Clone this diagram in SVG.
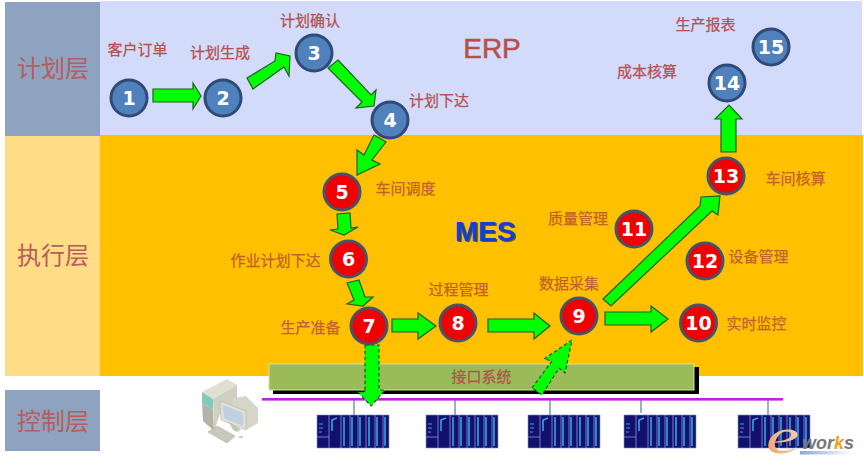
<svg xmlns="http://www.w3.org/2000/svg" xmlns:xlink="http://www.w3.org/1999/xlink" width="864" height="466" viewBox="0 0 864 466">
<style>
text{font-family:"Liberation Sans","Noto Sans CJK SC",sans-serif}
.l{font-size:15px;text-anchor:middle;fill:#b5504c;stroke:#b5504c;stroke-width:.25}
.o{font-size:15px;text-anchor:middle;fill:#c4602c;stroke:#c4602c;stroke-width:.25}
.h{font-size:24px;text-anchor:middle;fill:#b85c5c}
.a{fill:#00ff00;stroke:#1f5f1f;stroke-width:1.2;stroke-linejoin:miter}
.d{stroke-dasharray:3.5 2.5;stroke:#0f4f0f;stroke-width:1.1}
.b{fill:#4f81bd;stroke:#2f4a78;stroke-width:3}
.r{fill:#f00000;stroke:#44546a;stroke-width:3}
.n{font-family:"DejaVu Sans",sans-serif;font-weight:700;font-size:19px;fill:#fff;text-anchor:middle}
.s{stroke:#5a7a9a;stroke-width:1.2}
</style>
<defs>
<linearGradient id="bar"><stop offset="0" stop-color="#8ea6d8"/><stop offset="1" stop-color="#fff"/></linearGradient>
<linearGradient id="eg" x1="0" y1="1" x2="1" y2="0"><stop offset="0" stop-color="#f0a060"/><stop offset="1" stop-color="#f6d8c0"/></linearGradient>
<g id="rack">
<rect width="72" height="33" fill="#14106e" stroke="#8090d8" stroke-width="0.6"/>
<path d="M12 0V33M24 0V33M33 0V33M41 0V33M49 0V33M58 0V33M66 0V33M0 22H12" stroke="#8a9ad8" stroke-width="0.8" fill="none"/>
<path d="M27 2V31M35 2V31M43 2V31M52 2V31M60 2V31M68 2V31" stroke="#2ea8e0" stroke-width="1.6" fill="none"/>
<path d="M15 16V5L20 3" stroke="#2ea8e0" stroke-width="1.6" fill="none"/>
<path d="M2 9H6M2 13H6M2 17H5" stroke="#2ea8e0" stroke-width="1.2" fill="none"/>
</g>
</defs>
<rect width="864" height="466" fill="#fff"/>
<g id="bands">
<rect x="100" y="1" width="762" height="134" fill="#d3dbfb"/>
<rect x="5" y="2" width="95" height="134" fill="#8ea3bf"/>
<rect x="100" y="135" width="763" height="241" fill="#ffc000"/>
<rect x="5" y="136" width="95" height="240" fill="#ffdc85"/>
<rect x="5" y="390" width="95" height="61" fill="#8ea3bf"/>
<text class="h" x="53" y="77">计划层</text>
<text class="h" x="53" y="264">执行层</text>
<text class="h" x="53" y="430">控制层</text>
<text x="492" y="58" font-size="28" text-anchor="middle" fill="#b5504c" stroke="#b5504c" stroke-width="0.5">ERP</text>
<text x="486.500" y="242" font-size="28" font-weight="700" text-anchor="middle" fill="#333" opacity="0.75">MES</text>
<text x="485" y="240.500" font-size="28" font-weight="700" text-anchor="middle" fill="#1040d8">MES</text>
</g>
<g id="interface">
<rect x="273" y="367" width="426" height="27" fill="#000"/>
<rect x="269" y="364" width="425" height="26" fill="#9bbb59" stroke="#d4e2a8" stroke-width="1"/>
<text class="l" x="481.500" y="382">接口系统</text>
</g>
<g id="bus">
<rect x="262" y="398" width="521" height="2.600" fill="#c020e0"/>
<path class="s" d="M354 400V415M455 400V415M550 400V415M641 400V413M768 400V415"/>
<use xlink:href="#rack" href="#rack" x="317" y="415"/>
<use xlink:href="#rack" href="#rack" x="426" y="415"/>
<use xlink:href="#rack" href="#rack" x="528" y="415"/>
<use xlink:href="#rack" href="#rack" x="624" y="415"/>
<use xlink:href="#rack" href="#rack" x="738" y="415"/>
</g>
<g id="computer">
<polygon points="202,392 227,379 237,385 213,399" fill="#e0e0d2"/>
<polygon points="202,392 213,399 213,410 202,403" fill="#80ccba"/>
<polygon points="202,403 213,410 214,431 203,421" fill="#b4b4a6"/>
<polygon points="213,399 237,385 237,403 220,414 214,431" fill="#d0d0c2"/>
<polygon points="233,398 246,396 258,408 258,423 246,430 232,410" fill="#d6d6c8"/>
<polygon points="220,401 246,411 246,430 221,420" fill="#e0e0d6" stroke="#a8a89c" stroke-width="0.5"/>
<polygon points="223,405 243,413 243,426 224,418" fill="#bed0e2"/>
<polygon points="229,422 241,429 237,432 233,430" fill="#c4c4b8"/>
<polygon points="208,432 217,426 235,436 227,443" fill="#c8c8bc" stroke="#a0a096" stroke-width="0.5"/>
<ellipse cx="241" cy="437" rx="2.500" ry="1.500" fill="#d4d4d4"/>
</g>
<g id="connectors">
<polygon class="a" points="153,89 193,89 193,83 201,96 193,109 193,102 153,102"/>
<polygon class="a" points="247,78 275,61 276,53 290,56 289,76 284,67 253,89"/>
<polygon class="a" points="338,60 371,95 376,90 374,106 356,108 362,102 328,68"/>
<polygon class="a" points="374,135 386,142 372,160 380,164 357,175 357,150 364,155"/>
<polygon class="a" points="337,214 350,213 351,228 358,227 344,235 330,230 338,229"/>
<polygon class="a" points="347,283 359,280 365,297 373,297 363,306 347,304 354,300"/>
<polygon class="a" points="392,319 418,319 418,313 436,326 418,339 418,332 392,332"/>
<polygon class="a" points="488,319 534,319 534,313 550,326 534,339 534,332 488,332"/>
<polygon class="a" points="605,312 651,312 651,306 668,319 651,332 651,325 605,325"/>
<polygon class="a" points="603,299 700,206 701,197 720,196 718,215 712,211 611,306"/>
<polygon class="a" points="721,152 736,152 736,119 742,119 729,105 715,119 721,119"/>
<polygon class="a d" points="365,345 379,345 379,390 385,390 371,406 358,392 365,392"/>
<polygon class="a d" points="532,388 552,361 544,359 572,340 565,373 559,368 542,395"/>
</g>
<g id="n1"><circle class="b" cx="129" cy="98" r="18"/><text class="n" x="129" y="105">1</text></g>
<g id="n2"><circle class="b" cx="223" cy="98" r="18"/><text class="n" x="223" y="105">2</text></g>
<g id="n3"><circle class="b" cx="314" cy="53" r="18"/><text class="n" x="314" y="60">3</text></g>
<g id="n4"><circle class="b" cx="390" cy="120" r="18"/><text class="n" x="390" y="127">4</text></g>
<g id="n5"><circle class="r" cx="342" cy="192" r="18"/><text class="n" x="342" y="199">5</text></g>
<g id="n6"><circle class="r" cx="348.500" cy="259" r="18"/><text class="n" x="348.500" y="266">6</text></g>
<g id="n7"><circle class="r" cx="369" cy="326" r="18"/><text class="n" x="369" y="333">7</text></g>
<g id="n8"><circle class="r" cx="458" cy="323" r="18"/><text class="n" x="458" y="330">8</text></g>
<g id="n9"><circle class="r" cx="579" cy="316" r="18"/><text class="n" x="579" y="323">9</text></g>
<g id="n10"><circle class="r" cx="698.500" cy="323" r="18"/><text class="n" x="698.500" y="330">10</text></g>
<g id="n11"><circle class="r" cx="634" cy="229" r="18"/><text class="n" x="634" y="236">11</text></g>
<g id="n12"><circle class="r" cx="705" cy="261" r="18"/><text class="n" x="705" y="268">12</text></g>
<g id="n13"><circle class="r" cx="726" cy="176" r="18"/><text class="n" x="726" y="183">13</text></g>
<g id="n14"><circle class="b" cx="727" cy="83" r="18"/><text class="n" x="727" y="90">14</text></g>
<g id="n15"><circle class="b" cx="771" cy="47" r="18"/><text class="n" x="771" y="54">15</text></g>
<g id="labels">
<text class="l" x="137.500" y="55">客户订单</text>
<text class="l" x="220" y="58">计划生成</text>
<text class="l" x="310" y="26">计划确认</text>
<text class="l" x="439" y="106">计划下达</text>
<text class="o" x="405.500" y="194">车间调度</text>
<text class="o" x="275.500" y="266">作业计划下达</text>
<text class="o" x="310.500" y="333">生产准备</text>
<text class="o" x="458.500" y="295">过程管理</text>
<text class="o" x="569" y="289">数据采集</text>
<text class="o" x="578" y="224">质量管理</text>
<text class="o" x="758.500" y="262">设备管理</text>
<text class="o" x="756.500" y="329">实时监控</text>
<text class="o" x="795.500" y="184">车间核算</text>
<text class="l" x="647" y="77">成本核算</text>
<text class="l" x="705.500" y="30">生产报表</text>
</g>
<g id="logo">
<text transform="translate(766 453) scale(1.5 1)" font-size="50" font-style="italic" style="font-family:'Liberation Serif',serif" fill="url(#eg)">e</text>
<text x="802" y="449" font-size="18" font-weight="700" font-style="italic" fill="#77777a">wor<tspan fill="#f0a020">k</tspan>s</text>
<rect x="800" y="451" width="52" height="3.500" fill="url(#bar)"/>
</g>
</svg>
